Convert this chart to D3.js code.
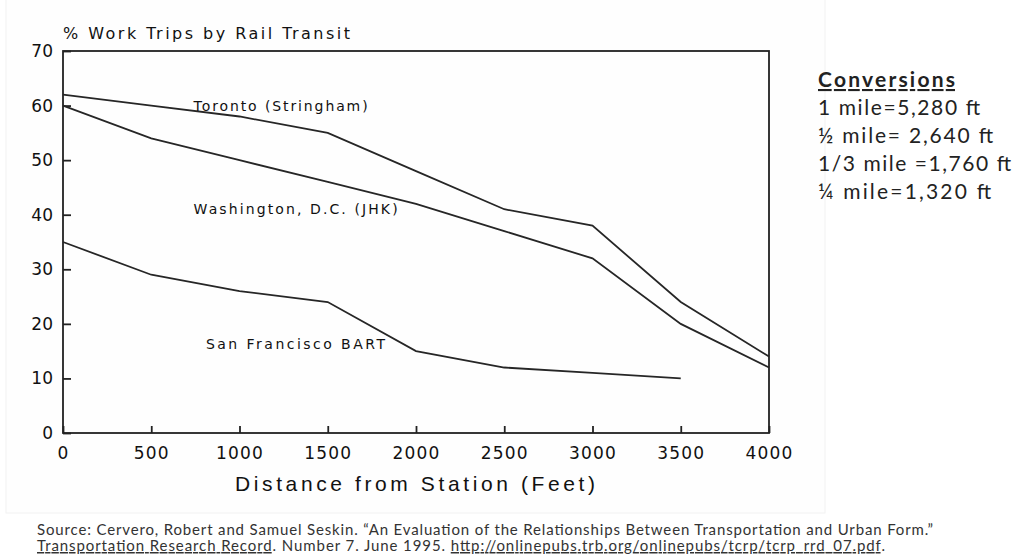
<!DOCTYPE html>
<html>
<head>
<meta charset="utf-8">
<script src="https://d3js.org/d3.v7.min.js"></script>
<style>
  body { margin: 0; background: #fff; }
  .axis path, .axis line { stroke: #222; stroke-width: 1.8px; }
  .axis text { font-family: "DejaVu Sans", sans-serif; fill: #111; }
  path.series { fill: none; stroke: #262626; stroke-width: 1.8px; }
  .lbl { font-family: "DejaVu Sans", sans-serif; font-size: 14px; fill: #111; }
  .conv { font-family: Lato, "Open Sans", sans-serif; font-size: 21px; fill: #222; }
  .src { font-family: Lato, "Open Sans", sans-serif; font-size: 15px; fill: #333; }
</style>
</head>
<body>
<script>
// distance from station (feet)
const distances = [0, 500, 1000, 1500, 2000, 2500, 3000, 3500, 4000];
// % work trips by rail transit
const toronto    = [62, 60, 58, 55, 48, 41, 38, 24, 14];
const washington = [60, 54, 50, 46, 42, 37, 32, 20, 12];
const sfBart     = [35, 29, 26, 24, 15, 12, 11, 10];

const xTicks = [0, 500, 1000, 1500, 2000, 2500, 3000, 3500, 4000];
const yTicks = [0, 10, 20, 30, 40, 50, 60, 70];

const seriesNames = ["Toronto (Stringham)", "Washington, D.C. (JHK)", "San Francisco BART"];
// label anchor in data units: [distance, percent]
const labelAt = [[740, 59], [740, 40.1], [810, 15.4]];
const labelWidths = [174, 204, 179];

const conversions = ["1 mile=5,280 ft", "\u00BD mile= 2,640 ft", "1/3 mile =1,760 ft", "\u00BC  mile=1,320 ft"];
const conversionWidths = [162, 175, 193, 173];

const width = 1016, height = 559;
const svg = d3.select("body").append("svg")
  .attr("width", width)
  .attr("height", height);

// faint frame of the pasted chart picture
svg.append("rect")
  .attr("x", 6).attr("y", -1).attr("width", 819).attr("height", 514)
  .attr("fill", "#fefefe").attr("stroke", "#f2f2f2");

const x = d3.scaleLinear().domain([0, 4000]).range([63, 769]);
const y = d3.scaleLinear().domain([0, 70]).range([433, 51]);

// box around plot
svg.append("rect")
  .attr("x", x(0)).attr("y", y(70))
  .attr("width", x(4000) - x(0)).attr("height", y(0) - y(70))
  .attr("fill", "none").attr("stroke", "#222").attr("stroke-width", 1.8);

svg.append("g")
  .attr("class", "x axis")
  .attr("transform", "translate(0," + y(0) + ")")
  .call(d3.axisBottom(x).tickValues(xTicks).tickFormat(d3.format("d"))
    .tickSizeInner(-7).tickSizeOuter(0).tickPadding(14))
  .selectAll("text")
  .attr("font-size", 17)
  .attr("letter-spacing", 1.2);

svg.append("g")
  .attr("class", "y axis")
  .attr("transform", "translate(" + x(0) + ",0)")
  .call(d3.axisLeft(y).tickValues(yTicks)
    .tickSizeInner(-8).tickSizeOuter(0).tickPadding(10))
  .selectAll("text")
  .attr("font-size", 17);

svg.selectAll(".axis .domain").remove();

const line = d3.line()
  .x(function (d, i) { return x(distances[i]); })
  .y(function (d) { return y(d); });

[toronto, washington, sfBart].forEach(function (s) {
  svg.append("path").attr("class", "series").attr("d", line(s));
});

seriesNames.forEach(function (name, i) {
  svg.append("text")
    .attr("class", "lbl")
    .attr("x", x(labelAt[i][0]))
    .attr("y", y(labelAt[i][1]))
    .attr("textLength", labelWidths[i])
    .attr("lengthAdjust", "spacing")
    .text(name);
});

// y axis title
svg.append("text")
  .attr("x", 63).attr("y", 39)
  .attr("font-family", "DejaVu Sans, sans-serif")
  .attr("font-size", 16).attr("fill", "#111")
  .attr("textLength", 287).attr("lengthAdjust", "spacing")
  .text("% Work Trips by Rail Transit");

// x axis title
svg.append("text")
  .attr("x", 235).attr("y", 491)
  .attr("font-family", "Liberation Sans, Arial, sans-serif")
  .attr("font-size", 21).attr("fill", "#111")
  .attr("textLength", 360).attr("lengthAdjust", "spacing")
  .text("Distance from Station (Feet)");

// conversions box
svg.append("text")
  .attr("class", "conv")
  .attr("x", 818).attr("y", 87)
  .attr("font-weight", "bold")
  .attr("text-decoration", "underline")
  .attr("textLength", 137).attr("lengthAdjust", "spacing")
  .text("Conversions");

conversions.forEach(function (c, i) {
  svg.append("text")
    .attr("class", "conv")
    .attr("x", 818).attr("y", 115 + i * 28)
    .attr("textLength", conversionWidths[i]).attr("lengthAdjust", "spacing")
    .text(c);
});

// source lines
svg.append("text")
  .attr("class", "src")
  .attr("x", 37).attr("y", 535)
  .attr("textLength", 896).attr("lengthAdjust", "spacing")
  .text("Source:  Cervero, Robert and Samuel Seskin.  \u201CAn Evaluation of the Relationships Between Transportation and Urban Form.\u201D");

const src2 = svg.append("text")
  .attr("class", "src")
  .attr("x", 37).attr("y", 551)
  .attr("textLength", 848).attr("lengthAdjust", "spacing");
src2.append("tspan").attr("text-decoration", "underline").text("Transportation Research Record");
src2.append("tspan").text(".  Number 7. June 1995.  ");
src2.append("tspan").attr("text-decoration", "underline").text("http://onlinepubs.trb.org/onlinepubs/tcrp/tcrp_rrd_07.pdf");
src2.append("tspan").text(".");
</script>
</body>
</html>
